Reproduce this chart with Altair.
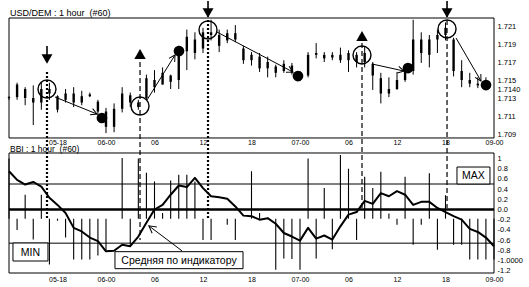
import math
import altair as alt
import pandas as pd

# ---------------- data ----------------
hours = list(range(60))
price_high = [1.7132, 1.7147, 1.7142, 1.7144, 1.7148, 1.7147, 1.7133, 1.7140, 1.7142, 1.7138,
              1.7136, 1.7128, 1.7119, 1.7124, 1.7142, 1.7136, 1.7128, 1.7156, 1.7161, 1.7164,
              1.7156, 1.7188, 1.7206, 1.7203, 1.7208, 1.7217, 1.7206, 1.7206, 1.7211, 1.7188,
              1.7181, 1.7180, 1.7176, 1.7167, 1.7172, 1.7169, 1.7160, 1.7181, 1.7191, 1.7181,
              1.7181, 1.7186, 1.7183, 1.7181, 1.7187, 1.7170, 1.7158, 1.7153, 1.7159, 1.7164,
              1.7217, 1.7203, 1.7200, 1.7206, 1.7214, 1.7197, 1.7172, 1.7158, 1.7153, 1.7153]
price_low = [1.7128, 1.7128, 1.7122, 1.7100, 1.7117, 1.7128, 1.7114, 1.7125, 1.7120, 1.7122,
             1.7131, 1.7111, 1.7091, 1.7092, 1.7114, 1.7120, 1.7117, 1.7128, 1.7136, 1.7145,
             1.7140, 1.7140, 1.7161, 1.7173, 1.7180, 1.7194, 1.7181, 1.7191, 1.7192, 1.7168,
             1.7166, 1.7159, 1.7153, 1.7153, 1.7158, 1.7156, 1.7149, 1.7153, 1.7174, 1.7170,
             1.7172, 1.7169, 1.7159, 1.7164, 1.7164, 1.7139, 1.7124, 1.7131, 1.7139, 1.7148,
             1.7156, 1.7169, 1.7164, 1.7180, 1.7194, 1.7154, 1.7142, 1.7142, 1.7141, 1.7139]
price_open = [1.7130, 1.7131, 1.7140, 1.7130, 1.7125, 1.7140, 1.7132, 1.7128, 1.7135, 1.7125,
              1.7132, 1.7126, 1.7115, 1.7098, 1.7118, 1.7133, 1.7125, 1.7130, 1.7150, 1.7145,
              1.7155, 1.7150, 1.7182, 1.7195, 1.7185, 1.7203, 1.7200, 1.7194, 1.7202, 1.7185,
              1.7172, 1.7176, 1.7163, 1.7165, 1.7160, 1.7166, 1.7157, 1.7155, 1.7178, 1.7178,
              1.7175, 1.7178, 1.7172, 1.7178, 1.7170, 1.7168, 1.7152, 1.7135, 1.7140, 1.7150,
              1.7160, 1.7195, 1.7178, 1.7195, 1.7200, 1.7195, 1.7160, 1.7150, 1.7146, 1.7144]
price_close = [1.7131, 1.7145, 1.7130, 1.7125, 1.7140, 1.7135, 1.7117, 1.7135, 1.7125, 1.7132,
               1.7134, 1.7115, 1.7098, 1.7118, 1.7135, 1.7125, 1.7120, 1.7152, 1.7142, 1.7158,
               1.7148, 1.7182, 1.7198, 1.7180, 1.7203, 1.7200, 1.7188, 1.7202, 1.7195, 1.7172,
               1.7178, 1.7163, 1.7170, 1.7158, 1.7168, 1.7158, 1.7152, 1.7178, 1.7180, 1.7174,
               1.7178, 1.7172, 1.7180, 1.7170, 1.7180, 1.7155, 1.7135, 1.7140, 1.7150, 1.7160,
               1.7195, 1.7180, 1.7195, 1.7200, 1.7208, 1.7160, 1.7150, 1.7146, 1.7144, 1.7142]

hist_hours = list(range(61))
bbi_hist = [1.0, -0.40, 0.29, -0.59, 0.29, -1.08, -0.22, -0.55, -0.98, -0.98,
            -0.98, -0.90, -0.81, -0.18, 1.01, -0.69, 1.0, 0.72, 0.55, -0.07,
            0.57, 0.68, 0.68, 0.55, -0.60, -0.60, -0.18, -0.30, -0.60, -0.18,
            0.75, -0.07, -0.18, -1.18, -0.96, -0.97, -1.18, 1.0, -0.96, 0.42,
            -0.78, 1.07, 0.80, -0.60, 0.64, 0.42, 0.74, -0.08, -0.30, 0.64,
            -0.69, -0.30, 0.71, -0.79, 0.28, -0.69, -0.69, -0.98, -0.98, -0.98, -0.98]
hist_base = -0.18

line_hours = list(range(61))
bbi_line = [0.75, 0.58, 0.49, 0.54, 0.45, 0.23, 0.09, -0.07, -0.36, -0.43,
            -0.55, -0.62, -0.82, -0.81, -0.69, -0.72, -0.53, -0.26, 0.0, 0.09,
            0.29, 0.47, 0.44, 0.62, 0.42, 0.26, 0.24, 0.21, 0.06, -0.12,
            -0.13, -0.20, -0.17, -0.28, -0.46, -0.53, -0.61, -0.36, -0.57, -0.51,
            -0.59, -0.33, -0.10, -0.05, 0.17, 0.11, 0.32, 0.26, 0.36, 0.29,
            0.09, 0.15, 0.15, 0.03, -0.05, -0.13, -0.20, -0.38, -0.44, -0.55, -0.72]

levels = [0.0, 0.5, -0.66]
level_widths = [2.6, 1.0, 1.0]

x_tick_values = [6, 12, 18, 24, 30, 36, 42, 48, 54, 60]
x_tick_labels = ["05-18", "06-00", "06", "12", "18", "07-00", "06", "12", "18", "09-00"]
price_tick_values = [1.721, 1.719, 1.717, 1.715, 1.714, 1.713, 1.711, 1.709]
price_tick_labels = ["1.721", "1.719", "1.717", "1.715", "1.7140", "1.713", "1.711", "1.709"]
bbi_tick_values = [1, 0.8, 0.6, 0.4, 0.2, 0, -0.2, -0.4, -0.6, -0.8, -1, -1.2]
bbi_tick_labels = ["1", "0.8", "0.6", "0.4", "0.2", "0.0", "-0.2", "-0.4", "-0.6", "-0.8", "-1.0000", "-1.2"]

# signals (hour, price)
signal_h = [4.70, 16.21, 24.62, 43.67, 54.19]
signal_dir = ["down", "up", "down", "up", "down"]
circle_p = [1.7140, 1.71211, 1.72056, 1.71778, 1.72067]
marker_p = [1.71733, 1.71789, 1.72244, 1.71989, 1.72244]
stem_top = [1.71878, None, 1.72378, None, 1.72378]
stem_bot = [1.71778, None, 1.72200, None, 1.72200]
vline_top = [1.71589, 1.71700, 1.72167, 1.71911, 1.72167]
vline_bot = [1.69956, 1.69722, 1.69956, 1.70078, 1.70078]
vline_style = ["dot", "dash", "dot", "dash", "dash"]
dot_h = [11.5, 21.03, 35.75, 49.36, 59.01]
dot_p = [1.71078, 1.71822, 1.71544, 1.71633, 1.71444]
arrow_h1 = [5.69, 17.07, 25.73, 44.91, 55.30]
arrow_p1 = [1.71311, 1.71278, 1.72033, 1.71678, 1.71967]
arrow_h2 = [10.89, 20.54, 35.13, 48.87, 58.39]
arrow_p2 = [1.71122, 1.71778, 1.71589, 1.71600, 1.71489]
# arrow in the indicator panel
ind_arrow = dict(h1=21.4, v1=-0.81, h2=17.3, v2=-0.32)

# label boxes (indicator units)
box_text = ["MIN", "MAX", "Средняя по индикатору"]
box_h1 = [0.49, 55.42, 13.11]
box_h2 = [4.82, 59.50, 28.95]
box_v1 = [-0.657, 0.50, -0.827]
box_v2 = [-1.010, 0.833, -1.160]

# ---------------- layout / style ----------------
FONT = "Liberation Sans, Arial, Helvetica, sans-serif"
W, H = 485, 255
XD = [0, 60]
PD = [1.69356, 1.72189]
BD = [-1.245, 3.755]
KX = W / (XD[1] - XD[0])
KP = H / (PD[1] - PD[0])
KB = H / (BD[1] - BD[0])
top_frame = dict(y0=1.70856, y1=PD[1])
bot_frame = dict(y0=BD[0], y1=1.108)


def sx(field, axis=None):
    return alt.X(f"{field}:Q", scale=alt.Scale(domain=XD, nice=False, zero=False), axis=axis)


def sp(field, axis=None):
    return alt.Y(f"{field}:Q", scale=alt.Scale(domain=PD, nice=False, zero=False), axis=axis)


def sb(field, axis=None):
    return alt.Y(f"{field}:Q", scale=alt.Scale(domain=BD, nice=False, zero=False), axis=axis)


def label_expr(values, labels):
    expr = "''"
    for v, l in reversed(list(zip(values, labels))):
        expr = f"abs(datum.value - ({v})) < 1e-6 ? '{l}' : ({expr})"
    return expr


def ang(h1, v1, h2, v2, ky):
    return math.degrees(math.atan2(-(v2 - v1) * ky, (h2 - h1) * KX)) % 360


axis_common = dict(grid=False, ticks=False, domain=False, labelFont=FONT, title=None,
                   labelColor="black", labelOverlap=False)
x_axis_top = alt.Axis(orient="bottom", offset=-135, values=x_tick_values,
                      labelExpr=label_expr(x_tick_values, x_tick_labels),
                      labelPadding=0, labelFontSize=7, labelFlush=False, **axis_common)
x_axis_bot = alt.Axis(orient="bottom", values=x_tick_values,
                      labelExpr=label_expr(x_tick_values, x_tick_labels),
                      labelPadding=2, labelFontSize=7, labelFlush=False, **axis_common)
p_axis = alt.Axis(orient="right", values=price_tick_values,
                  labelExpr=label_expr(price_tick_values, price_tick_labels),
                  labelPadding=3, labelFontSize=7.5, labelFlush=False, **axis_common)
b_axis = alt.Axis(orient="right", values=bbi_tick_values,
                  labelExpr=label_expr(bbi_tick_values, bbi_tick_labels),
                  labelPadding=3, labelFontSize=7.5, labelFlush=False, **axis_common)

# ---------------- frames ----------------
tf = pd.DataFrame({"x0": [XD[0]], "x1": [XD[1]], "y0": [top_frame["y0"]], "y1": [top_frame["y1"]]})
bf = pd.DataFrame({"x0": [XD[0]], "x1": [XD[1]], "y0": [bot_frame["y0"]], "y1": [bot_frame["y1"]]})
frame_top = alt.Chart(tf).mark_rect(fill="white", fillOpacity=0, stroke="black", strokeWidth=1).encode(
    x=sx("x0", x_axis_top), x2="x1", y=sp("y0", p_axis), y2="y1")
frame_bot = alt.Chart(bf).mark_rect(fill="white", fillOpacity=0, stroke="black", strokeWidth=1).encode(
    x=sx("x0", x_axis_bot), x2="x1", y=sb("y0", b_axis), y2="y1")

# ---------------- indicator panel ----------------
lv = pd.DataFrame({"v": levels, "w": level_widths, "x0": XD[0], "x1": XD[1]})
level_rules = alt.Chart(lv).mark_rule(color="black").encode(
    x=sx("x0"), x2="x1", y=sb("v"), size=alt.Size("w:Q", scale=None))

hd = pd.DataFrame({"h": hist_hours, "v": bbi_hist, "base": hist_base})
hist = alt.Chart(hd).mark_rule(color="black", strokeWidth=1.1).encode(
    x=sx("h"), y=sb("v"), y2="base")

ld = pd.DataFrame({"h": line_hours, "v": bbi_line})
bbi = alt.Chart(ld).mark_line(color="black", strokeWidth=2, strokeJoin="round").encode(
    x=sx("h"), y=sb("v"))

# ---------------- price panel ----------------
pdf = pd.DataFrame({"h": hours, "hi": price_high, "lo": price_low, "o": price_open, "c": price_close})
wicks = alt.Chart(pdf).mark_rule(color="black", strokeWidth=1).encode(x=sx("h"), y=sp("lo"), y2="hi")
bodies = alt.Chart(pdf).mark_rule(color="black", strokeWidth=2.4).encode(x=sx("h"), y=sp("o"), y2="c")

vd = pd.DataFrame({"h": signal_h, "t": vline_top, "b": vline_bot, "s": vline_style})
vdot = alt.Chart(vd[vd.s == "dot"]).mark_rule(color="black", strokeWidth=2.2, strokeDash=[2, 2]).encode(
    x=sx("h"), y=sp("t"), y2="b")
vdash = alt.Chart(vd[vd.s == "dash"]).mark_rule(color="black", strokeWidth=1.2, strokeDash=[5, 3]).encode(
    x=sx("h"), y=sp("t"), y2="b")

cd = pd.DataFrame({"h": signal_h, "p": circle_p})
circles = alt.Chart(cd).mark_point(shape="circle", size=324, filled=False, color="black",
                                   strokeWidth=1.4, opacity=1).encode(x=sx("h"), y=sp("p"))
dd = pd.DataFrame({"h": dot_h, "p": dot_p})
dots = alt.Chart(dd).mark_point(shape="circle", size=115, filled=True, color="black", opacity=1).encode(
    x=sx("h"), y=sp("p"))

md = pd.DataFrame({"h": signal_h, "p": marker_p, "d": signal_dir})
tri_down = alt.Chart(md[md.d == "down"]).mark_point(shape="triangle-down", size=120, filled=True,
                                                    color="black", opacity=1).encode(x=sx("h"), y=sp("p"))
tri_up = alt.Chart(md[md.d == "up"]).mark_point(shape="triangle-up", size=130, filled=True,
                                                color="black", opacity=1).encode(x=sx("h"), y=sp("p"))
sd = pd.DataFrame({"h": signal_h, "t": stem_top, "b": stem_bot}).dropna()
stems = alt.Chart(sd).mark_rule(color="black", strokeWidth=1.6).encode(x=sx("h"), y=sp("t"), y2="b")

ad = pd.DataFrame({"h1": arrow_h1, "p1": arrow_p1, "h2": arrow_h2, "p2": arrow_p2})
ad["a"] = [ang(r.h1, r.p1, r.h2, r.p2, KP) for r in ad.itertuples()]
arrow_lines = alt.Chart(ad).mark_rule(color="black", strokeWidth=1).encode(
    x=sx("h1"), x2="h2", y=sp("p1"), y2="p2")
HEAD = "M-1,-0.55L0,0L-1,0.55"
arrow_heads = alt.Chart(ad).mark_point(shape=HEAD, size=150, filled=False, color="black",
                                       strokeWidth=1, opacity=1).encode(
    x=sx("h2"), y=sp("p2"), angle=alt.Angle("a:Q", scale=None))

iad = pd.DataFrame([ind_arrow])
iad["a"] = [ang(ind_arrow["h1"], ind_arrow["v1"], ind_arrow["h2"], ind_arrow["v2"], KB)]
ind_line = alt.Chart(iad).mark_rule(color="black", strokeWidth=1).encode(
    x=sx("h1"), x2="h2", y=sb("v1"), y2="v2")
ind_head = alt.Chart(iad).mark_point(shape=HEAD, size=200, filled=False, color="black",
                                     strokeWidth=1, opacity=1).encode(
    x=sx("h2"), y=sb("v2"), angle=alt.Angle("a:Q", scale=None))

# ---------------- boxes and texts ----------------
bxd = pd.DataFrame({"t": box_text, "h1": box_h1, "h2": box_h2, "v1": box_v1, "v2": box_v2})
bxd["hc"] = (bxd.h1 + bxd.h2) / 2
bxd["vc"] = (bxd.v1 + bxd.v2) / 2
boxes = alt.Chart(bxd).mark_rect(fill="white", stroke="black", strokeWidth=1).encode(
    x=sx("h1"), x2="h2", y=sb("v1"), y2="v2")
box_labels = alt.Chart(bxd).mark_text(font=FONT, fontSize=10.5, color="black", align="center",
                                      baseline="middle", dy=0.5).encode(
    x=sx("hc"), y=sb("vc"), text="t:N")

titles_p = pd.DataFrame({"h": [0.12], "p": [1.72211], "t": ["USD/DEM : 1 hour\u00a0\u00a0(#60)"]})
title_top = alt.Chart(titles_p).mark_text(font=FONT, fontSize=9, color="black", align="left",
                                          baseline="alphabetic").encode(x=sx("h"), y=sp("p"), text="t:N")
titles_b = pd.DataFrame({"h": [0.12], "v": [1.118], "t": ["BBI : 1 hour\u00a0\u00a0(#60)"]})
title_bot = alt.Chart(titles_b).mark_text(font=FONT, fontSize=8.5, color="black", align="left",
                                          baseline="alphabetic").encode(x=sx("h"), y=sb("v"), text="t:N")

chart = alt.layer(
    frame_top, frame_bot, level_rules, hist, bbi,
    wicks, bodies, vdot, vdash, circles, dots,
    arrow_lines, arrow_heads, ind_line, ind_head,
    tri_down, tri_up, stems, boxes, box_labels, title_top, title_bot,
).resolve_scale(x="independent", y="independent").properties(
    width=W, height=H,
    autosize=alt.AutoSizeParams(type="none"),
    padding={"left": 9, "top": 18, "right": 35, "bottom": 14},
    background="white",
).configure_view(strokeWidth=0)

chart.save("out.html", embed_options={"renderer": "svg", "actions": False})
